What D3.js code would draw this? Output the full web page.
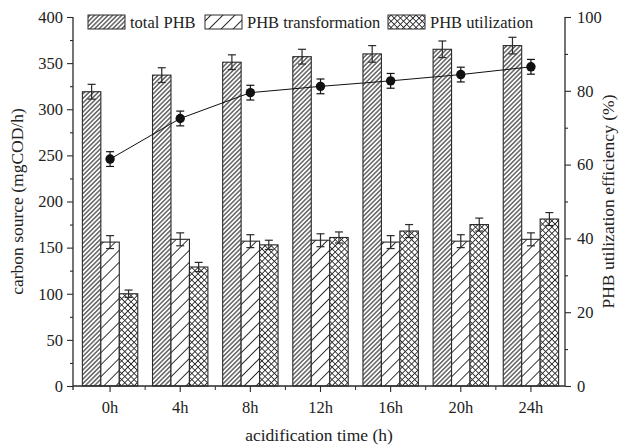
<!DOCTYPE html>
<html>
<head>
<meta charset="utf-8">
<script src="https://cdn.jsdelivr.net/npm/d3@7"></script>
<style>
  body { margin: 0; background: #fff; }
  svg { font-family: "Liberation Serif", "DejaVu Serif", serif; }
</style>
</head>
<body>
<div id="js_chart"></div>
<script>
const categories = ["0h", "4h", "8h", "12h", "16h", "20h", "24h"];
const series = ["total PHB", "PHB transformation", "PHB utilization"];
const totalPHB = [319, 337, 351, 357, 360, 365, 369];
const totalErr = [8, 8, 8, 8, 9, 9, 9];
const transPHB = [156, 159, 157, 158, 156, 157, 159];
const transErr = [7, 7, 7, 7, 7, 7, 7];
const utilPHB = [100, 129, 153, 161, 168, 175, 181];
const utilErr = [4, 5, 5, 6, 7, 7, 7];
const efficiency = [61.5, 72.5, 79.5, 81.2, 82.7, 84.4, 86.5];
const effErr = [2, 2, 2, 2, 2, 2, 2];
const leftTicks = [0, 50, 100, 150, 200, 250, 300, 350, 400];
const rightTicks = [0, 20, 40, 60, 80, 100];

const width = 623;
const height = 446;
const plotLeft = 73, plotRight = 565, plotTop = 17, plotBottom = 386;
const ink = "#2a2a2a";

const svg = d3.select("#js_chart")
  .append("svg")
  .attr("width", width)
  .attr("height", height)
  .attr("viewBox", [0, 0, width, height]);

// fill patterns
const defs = svg.append("defs");
function hatch(id, size, cross, sw) {
  const p = defs.append("pattern")
    .attr("id", id)
    .attr("patternUnits", "userSpaceOnUse")
    .attr("width", size)
    .attr("height", size)
    .attr("patternTransform", "rotate(45)");
  p.append("rect").attr("width", size).attr("height", size).attr("fill", "#fff");
  p.append("line").attr("x1", size / 2).attr("y1", 0).attr("x2", size / 2).attr("y2", size)
    .attr("stroke", ink).attr("stroke-width", sw);
  if (cross) {
    p.append("line").attr("x1", 0).attr("y1", size / 2).attr("x2", size).attr("y2", size / 2)
      .attr("stroke", ink).attr("stroke-width", sw);
  }
}
hatch("p_total", 3.2, false, 1.1);
hatch("p_trans", 8.5, false, 1.0);
hatch("p_util", 4.4, true, 0.9);
const fills = { "total PHB": "url(#p_total)", "PHB transformation": "url(#p_trans)", "PHB utilization": "url(#p_util)" };

const x0 = d3.scaleBand().domain(categories).range([75, 566]);
const x1 = d3.scaleBand().domain(series).range([0, x0.bandwidth()]).paddingOuter(0.4);
const y = d3.scaleLinear().domain([0, 400]).range([plotBottom, plotTop]);
const y2 = d3.scaleLinear().domain([0, 100]).range([plotBottom, plotTop]);

const rows = categories.map((c, i) => ({
  cat: c,
  vals: [
    { key: series[0], v: totalPHB[i], e: totalErr[i] },
    { key: series[1], v: transPHB[i], e: transErr[i] },
    { key: series[2], v: utilPHB[i], e: utilErr[i] }
  ]
}));

const groups = svg.append("g")
  .selectAll("g")
  .data(rows)
  .join("g")
    .attr("transform", d => `translate(${x0(d.cat)},0)`);

groups.selectAll("rect")
  .data(d => d.vals)
  .join("rect")
    .attr("x", d => x1(d.key))
    .attr("y", d => y(d.v))
    .attr("width", x1.bandwidth())
    .attr("height", d => y(0) - y(d.v))
    .attr("fill", d => fills[d.key])
    .attr("stroke", ink)
    .attr("stroke-width", 1.1);

// error bars
function errBar(g, cx, y0, y1, cap) {
  g.append("line").attr("x1", cx).attr("x2", cx).attr("y1", y0).attr("y2", y1);
  g.append("line").attr("x1", cx - cap).attr("x2", cx + cap).attr("y1", y0).attr("y2", y0);
  g.append("line").attr("x1", cx - cap).attr("x2", cx + cap).attr("y1", y1).attr("y2", y1);
}
const eg = svg.append("g").attr("stroke", ink).attr("stroke-width", 1.2);
rows.forEach(r => {
  r.vals.forEach(d => {
    const cx = x0(r.cat) + x1(d.key) + x1.bandwidth() / 2;
    errBar(eg, cx, y(d.v + d.e), y(d.v - d.e), 4);
  });
});

// efficiency line
const cx = c => x0(c) + x0.bandwidth() / 2;
svg.append("path")
  .datum(categories.map((c, i) => [cx(c), y2(efficiency[i])]))
  .attr("fill", "none")
  .attr("stroke", "#111")
  .attr("stroke-width", 1)
  .attr("d", d3.line());
const lg = svg.append("g").attr("stroke", "#111").attr("stroke-width", 1.2);
categories.forEach((c, i) => errBar(lg, cx(c), y2(efficiency[i] + effErr[i]), y2(efficiency[i] - effErr[i]), 4));
svg.append("g")
  .selectAll("circle")
  .data(categories)
  .join("circle")
    .attr("cx", d => cx(d))
    .attr("cy", (d, i) => y2(efficiency[i]))
    .attr("r", 4.7)
    .attr("fill", "#111");

// axes
function styleAxis(g) {
  g.selectAll("text").attr("font-size", 16.5).attr("fill", "#222").attr("font-family", "Liberation Serif");
  g.selectAll("line, path").attr("stroke", ink).attr("stroke-width", 1.1);
}
svg.append("g")
  .attr("transform", `translate(${plotLeft},0)`)
  .call(d3.axisLeft(y).tickValues(leftTicks).tickSize(6).tickPadding(4))
  .call(g => g.select(".domain").remove())
  .call(styleAxis);
svg.append("g")
  .attr("transform", `translate(${plotLeft},0)`)
  .call(d3.axisLeft(y).tickValues(d3.range(25, 400, 50)).tickSize(3).tickFormat(""))
  .call(g => g.select(".domain").remove())
  .call(styleAxis);

svg.append("g")
  .attr("transform", `translate(${plotRight},0)`)
  .call(d3.axisRight(y2).tickValues(rightTicks).tickSize(6).tickPadding(6))
  .call(g => g.select(".domain").remove())
  .call(styleAxis);
svg.append("g")
  .attr("transform", `translate(${plotRight},0)`)
  .call(d3.axisRight(y2).tickValues(d3.range(10, 100, 20)).tickSize(3).tickFormat(""))
  .call(g => g.select(".domain").remove())
  .call(styleAxis);

svg.append("g")
  .attr("transform", `translate(0,${plotBottom})`)
  .call(d3.axisBottom(x0).tickSize(6).tickPadding(9))
  .call(g => g.select(".domain").remove())
  .call(styleAxis);
svg.append("g")
  .attr("transform", `translate(0,${plotBottom})`)
  .selectAll("line")
  .data(categories.slice(1))
  .join("line")
    .attr("x1", d => x0(d)).attr("x2", d => x0(d))
    .attr("y1", 0).attr("y2", 4)
    .attr("stroke", ink);

// frame lines (left, right, bottom)
const frame = svg.append("g").attr("stroke", ink).attr("stroke-width", 1.3);
frame.append("line").attr("x1", plotLeft).attr("x2", plotLeft).attr("y1", plotTop).attr("y2", plotBottom + 4);
frame.append("line").attr("x1", plotRight).attr("x2", plotRight).attr("y1", plotTop).attr("y2", plotBottom);
frame.append("line").attr("x1", plotLeft).attr("x2", plotRight).attr("y1", plotBottom).attr("y2", plotBottom);

// axis titles
svg.append("text")
  .attr("transform", `translate(23,${(plotTop + plotBottom) / 2}) rotate(-90)`)
  .attr("text-anchor", "middle")
  .attr("font-size", 17.5)
  .attr("fill", "#222")
  .text("carbon source (mgCOD/h)");
svg.append("text")
  .attr("transform", `translate(614,${(plotTop + plotBottom) / 2}) rotate(-90)`)
  .attr("text-anchor", "middle")
  .attr("font-size", 17.5)
  .attr("fill", "#222")
  .text("PHB utilization efficiency (%)");
svg.append("text")
  .attr("x", (plotLeft + plotRight) / 2)
  .attr("y", 441)
  .attr("text-anchor", "middle")
  .attr("font-size", 17.5)
  .attr("fill", "#222")
  .text("acidification time (h)");

// legend
const legendX = [88, 205, 388];
const legend = svg.append("g")
  .selectAll("g")
  .data(series)
  .join("g")
    .attr("transform", (d, i) => `translate(${legendX[i]},15)`);
legend.append("rect")
  .attr("width", 37)
  .attr("height", 14)
  .attr("fill", d => fills[d])
  .attr("stroke", ink);
legend.append("text")
  .attr("x", 42)
  .attr("y", 13)
  .attr("font-size", 16.5)
  .attr("fill", "#222")
  .text(d => d);
</script>
</body>
</html>
